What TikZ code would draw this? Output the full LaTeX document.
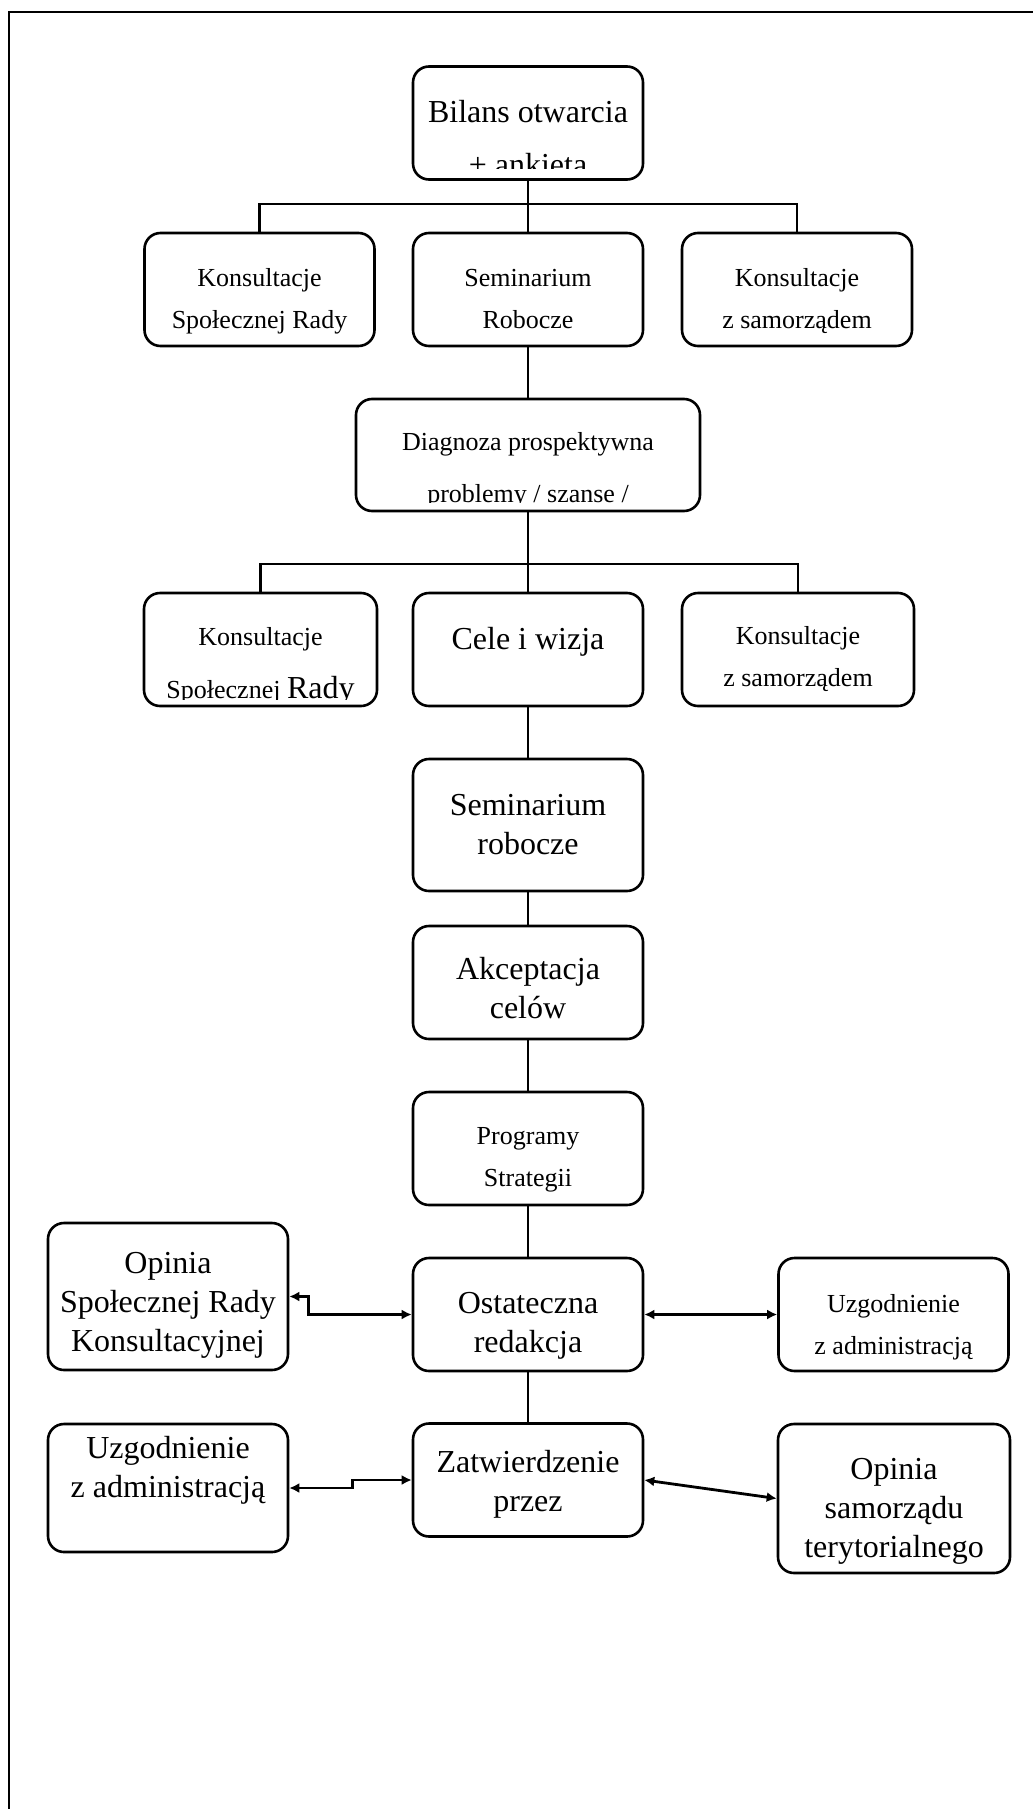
\documentclass[tikz,border=0pt]{standalone}
\usepackage{fontspec}
\setmainfont{Liberation Serif}
\usetikzlibrary{arrows.meta}

\tikzset{
  box/.style={draw, line width=1.3pt, rounded corners=8pt, align=center,
    inner sep=0pt, minimum width=115pt, minimum height=56.5pt},
  smalltxt/.style={font=\fontsize{13}{21}\selectfont},
  bigtxt/.style={font=\fontsize{16}{19.5}\selectfont},
  lastline/.style={text height=#1, text depth=0pt},
  link/.style={line width=1.3pt},
  twoway/.style={line width=1.4pt, {Latex[length=5pt,width=5pt]}-{Latex[length=5pt,width=5pt]}}
}

\begin{document}
\begin{tikzpicture}[x=0.5pt, y=-0.5pt]
\useasboundingbox (0,0) rectangle (1033,1809);

% Page frame
\draw[line width=1pt] (9,1809) -- (9,12) -- (1033,12);

% Opening stage
\node[box] (bilans) at (528,123) {};
\node[box, smalltxt, lastline=38.5pt] (konsA) at (259.5,289.5) {Konsultacje\\Społecznej Rady};
\node[box, smalltxt, lastline=38.5pt] (semA) at (528,289.5) {Seminarium\\Robocze};
\node[box, smalltxt, lastline=38.5pt] (samA) at (797,289.5) {Konsultacje\\z samorządem};
\node[box, minimum width=172pt, minimum height=56pt] (diag) at (528,455) {};

% Goals
\node[box, minimum width=116.5pt] (konsB) at (260.5,649.5) {};
\node[box, bigtxt, lastline=0pt] (cele) at (528,649.5) {Cele i wizja};
\node[box, smalltxt, minimum width=116pt, lastline=36.5pt] (samB) at (798,649.5) {Konsultacje\\z samorządem};
\node[box, bigtxt, minimum height=66pt, lastline=29pt] (semB) at (528,825) {Seminarium\\robocze};
\node[box, bigtxt, lastline=35.5pt] (akcept) at (528,982.5) {Akceptacja\\celów};
\node[box, smalltxt, lastline=38pt] (prog) at (528,1148.5) {Programy\\Strategii};

% Final stage
\node[box, bigtxt, lastline=38pt] (redakcja) at (528,1314.5) {Ostateczna\\redakcja};
\node[box, bigtxt, minimum width=120pt, minimum height=73.5pt, lastline=55pt] (opRada) at (168,1296.5) {Opinia\\Społecznej Rady\\Konsultacyjnej};
\node[box, smalltxt, lastline=40pt] (uzgA) at (893.5,1314.5) {Uzgodnienie\\z administracją};
\node[box, bigtxt, lastline=31pt] (zatw) at (528,1480) {Zatwierdzenie\\przez};
\node[box, bigtxt, minimum width=120pt, minimum height=64pt, lastline=9pt] (uzgB) at (168,1488) {Uzgodnienie\\z administracją};
\node[box, bigtxt, minimum width=116pt, minimum height=74.5pt, lastline=58.5pt] (opSam) at (894,1498.5) {Opinia\\samorządu\\terytorialnego};

% Texts cut off by their boxes
\begin{scope}
  \clip (bilans.north west) rectangle ([yshift=6pt]bilans.south east);
  \node[bigtxt, anchor=base] (bilansA) at (bilans.center) {Bilans otwarcia};
  \node[bigtxt, anchor=base] (bilansB) at ([yshift=-26.5pt]bilans.center) {+ ankieta};
\end{scope}
\begin{scope}
  \clip (diag.north west) rectangle ([yshift=5pt]diag.south east);
  \node[smalltxt, anchor=base] (diagA) at ([yshift=2.5pt]diag.center) {Diagnoza prospektywna};
  \node[smalltxt, anchor=base] (diagB) at ([yshift=-23.5pt]diag.center) {problemy / szanse /};
\end{scope}
\begin{scope}
  \clip (konsB.north west) rectangle ([yshift=4pt]konsB.south east);
  \node[smalltxt, anchor=base] (konsB1) at ([yshift=2.25pt]konsB.center) {Konsultacje};
  \node[smalltxt, anchor=base] (konsB2) at ([yshift=-24.25pt]konsB.center) {Społecznej {\fontsize{16}{19.5}\selectfont Rady}};
\end{scope}

% Connectors
\coordinate (busA) at (528,204);
\coordinate (busB) at (528,564);
\draw[link] (bilans) -- (semA);
\draw[link] (konsA.north) |- (busA) -| (samA.north);
\draw[link] (semA) -- (diag);
\draw[link] (diag) -- (cele);
\draw[link] (konsB.north) |- (busB) -| (samB.north);
\draw[link] (cele) -- (semB) -- (akcept) -- (prog) -- (redakcja) -- (zatw);

% Two-way arrows
\draw[twoway] (opRada.east) -- ++(19,0) |- (redakcja.west);
\draw[twoway] (redakcja) -- (uzgA);
\draw[twoway] (uzgB.east) -- ++(63,0) |- (zatw.west);
\draw[twoway] (zatw.east) -- (opSam.west);

\end{tikzpicture}
\end{document}
